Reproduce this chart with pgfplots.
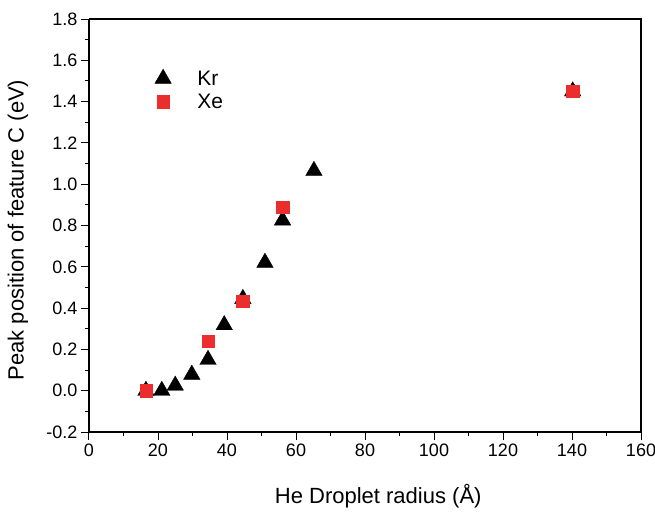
\documentclass[border=0pt]{standalone}
\usepackage{pgfplots}
\pgfplotsset{compat=1.18}
\usepackage{fontspec}
\setmainfont{Liberation Sans}
\definecolor{xered}{RGB}{235,45,45}
\begin{document}
\begin{tikzpicture}
\begin{axis}[
  at={(0,0)}, anchor=south west,
  scale only axis, width=552pt, height=413pt,
  xmin=0, xmax=160, ymin=-0.2, ymax=1.8,
  xtick={0,20,...,160}, minor x tick num=1,
  ytick={-0.2,0,0.2,0.4,0.6,0.8,1.0,1.2,1.4,1.6,1.8}, minor y tick num=1,
  tick align=outside, axis x line*=bottom, axis y line*=left,
  major tick length=8pt, minor tick length=4pt,
  every tick/.style={black, line width=1pt},
  axis line style={line width=1.2pt},
  /pgf/number format/assume math mode=true,
  tick label style={font=\fontsize{18}{20}\selectfont},
  yticklabel style={/pgf/number format/.cd, fixed, fixed zerofill, precision=1},
  xticklabel style={/pgf/number format/.cd, fixed, precision=0},
  xlabel={He Droplet radius (Å)},
  ylabel={Peak position of feature C (eV)},
  label style={font=\fontsize{22}{24}\selectfont},
  x label style={at={(axis description cs:0.524,-0.155)}, anchor=center},
  y label style={at={(axis description cs:-0.1286,0.489)}, anchor=center, rotate=0},
  legend image code/.code={\draw[#1] plot coordinates {(0pt,0pt)}; \path (-10pt,0pt) (32pt,0pt);},
  legend style={at={(axis description cs:0.11,0.885)}, anchor=north west, draw=none, fill=none,
    font=\fontsize{21}{23}\selectfont, row sep=3pt},
  legend cell align=left,
  clip=false,
]
\addplot[only marks, mark=triangle*, mark size=9.5pt, black] coordinates {
 (16.5,0.0) (21.1,0.0) (25.0,0.025) (29.8,0.078) (34.5,0.15) (39.2,0.318)
 (44.6,0.445) (51.0,0.62) (56.1,0.825) (65.2,1.065) (140.2,1.45)
};
\addlegendentry{Kr}
\addplot[only marks, mark=square*, mark size=6.2pt, xered] coordinates {
 (16.5,0.0) (34.5,0.24) (44.6,0.434) (56.1,0.89) (140.2,1.45)
};
\addlegendentry{Xe}
% top and right frame
\draw[line width=1.2pt] (rel axis cs:0,1) -- (rel axis cs:1,1) -- (rel axis cs:1,0);
\end{axis}
\pgfresetboundingbox
\path (-89pt,-80pt) rectangle (566pt,432pt);
\end{tikzpicture}
\end{document}
